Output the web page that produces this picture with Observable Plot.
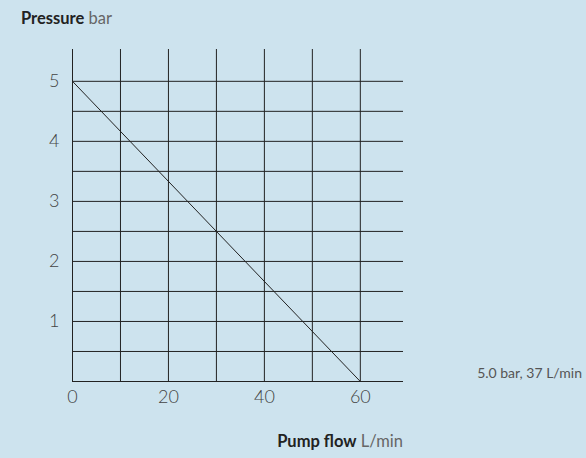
<!DOCTYPE html>
<html>
<head>
<meta charset="utf-8">
<script src="https://cdn.jsdelivr.net/npm/d3@7"></script>
<script src="https://cdn.jsdelivr.net/npm/@observablehq/plot@0.6"></script>
<style>
  html, body { margin: 0; padding: 0; background: #cde3ee; }
  #wrap { position: relative; width: 586px; height: 458px; font-family: Lato, "Noto Sans", sans-serif; }
  .lbl { position: absolute; font-size: 16px; color: #666; white-space: nowrap; line-height: 1; }
  .lbl b { color: #222; font-weight: 700; }
</style>
</head>
<body>
<div id="wrap">
  <div class="lbl" id="title" style="left:21px; top:10px; font-size:16.5px;"><b>Pressure</b> bar</div>
  <div class="lbl" id="xlabel" style="right:183px; top:433px; font-size:16.5px;"><b>Pump flow</b> L/min</div>
  <div class="lbl" id="note" style="right:4px; top:366px; font-size:14px; color:#555;">5.0 bar, 37 L/min</div>
</div>
<script>
const flow = [0, 60];
const pressure = [5, 0];
const xTicks = [0, 20, 40, 60];
const yTicks = [1, 2, 3, 4, 5];
const xGrid = [0, 10, 20, 30, 40, 50, 60];
const yGrid = [0, 0.5, 1, 1.5, 2, 2.5, 3, 3.5, 4, 4.5, 5];

const curve = flow.map((f, i) => ({flow: f, pressure: pressure[i]}));

const chart = Plot.plot({
  width: 586,
  height: 458,
  marginLeft: 72,
  marginRight: 183,
  marginTop: 49,
  marginBottom: 77,
  style: {background: "transparent", fontFamily: "Lato, 'Noto Sans', sans-serif", fontSize: "18px", fontWeight: 300, color: "#444"},
  x: {domain: [0, 69], ticks: xTicks, tickSize: 0, tickPadding: 9, tickFormat: "d", label: null},
  y: {domain: [0, 5.53], ticks: yTicks, tickSize: 0, tickPadding: 13, tickFormat: "d", label: null},
  marks: [
    Plot.ruleY(yGrid, {stroke: "#222", strokeWidth: 1}),
    Plot.ruleX(xGrid, {stroke: "#222", strokeWidth: 1}),
    Plot.line(curve, {x: "flow", y: "pressure", stroke: "#222", strokeWidth: 1})
  ]
});
chart.style.position = "absolute";
chart.style.left = "0px";
chart.style.top = "0px";
document.getElementById("wrap").prepend(chart);
</script>
</body>
</html>
